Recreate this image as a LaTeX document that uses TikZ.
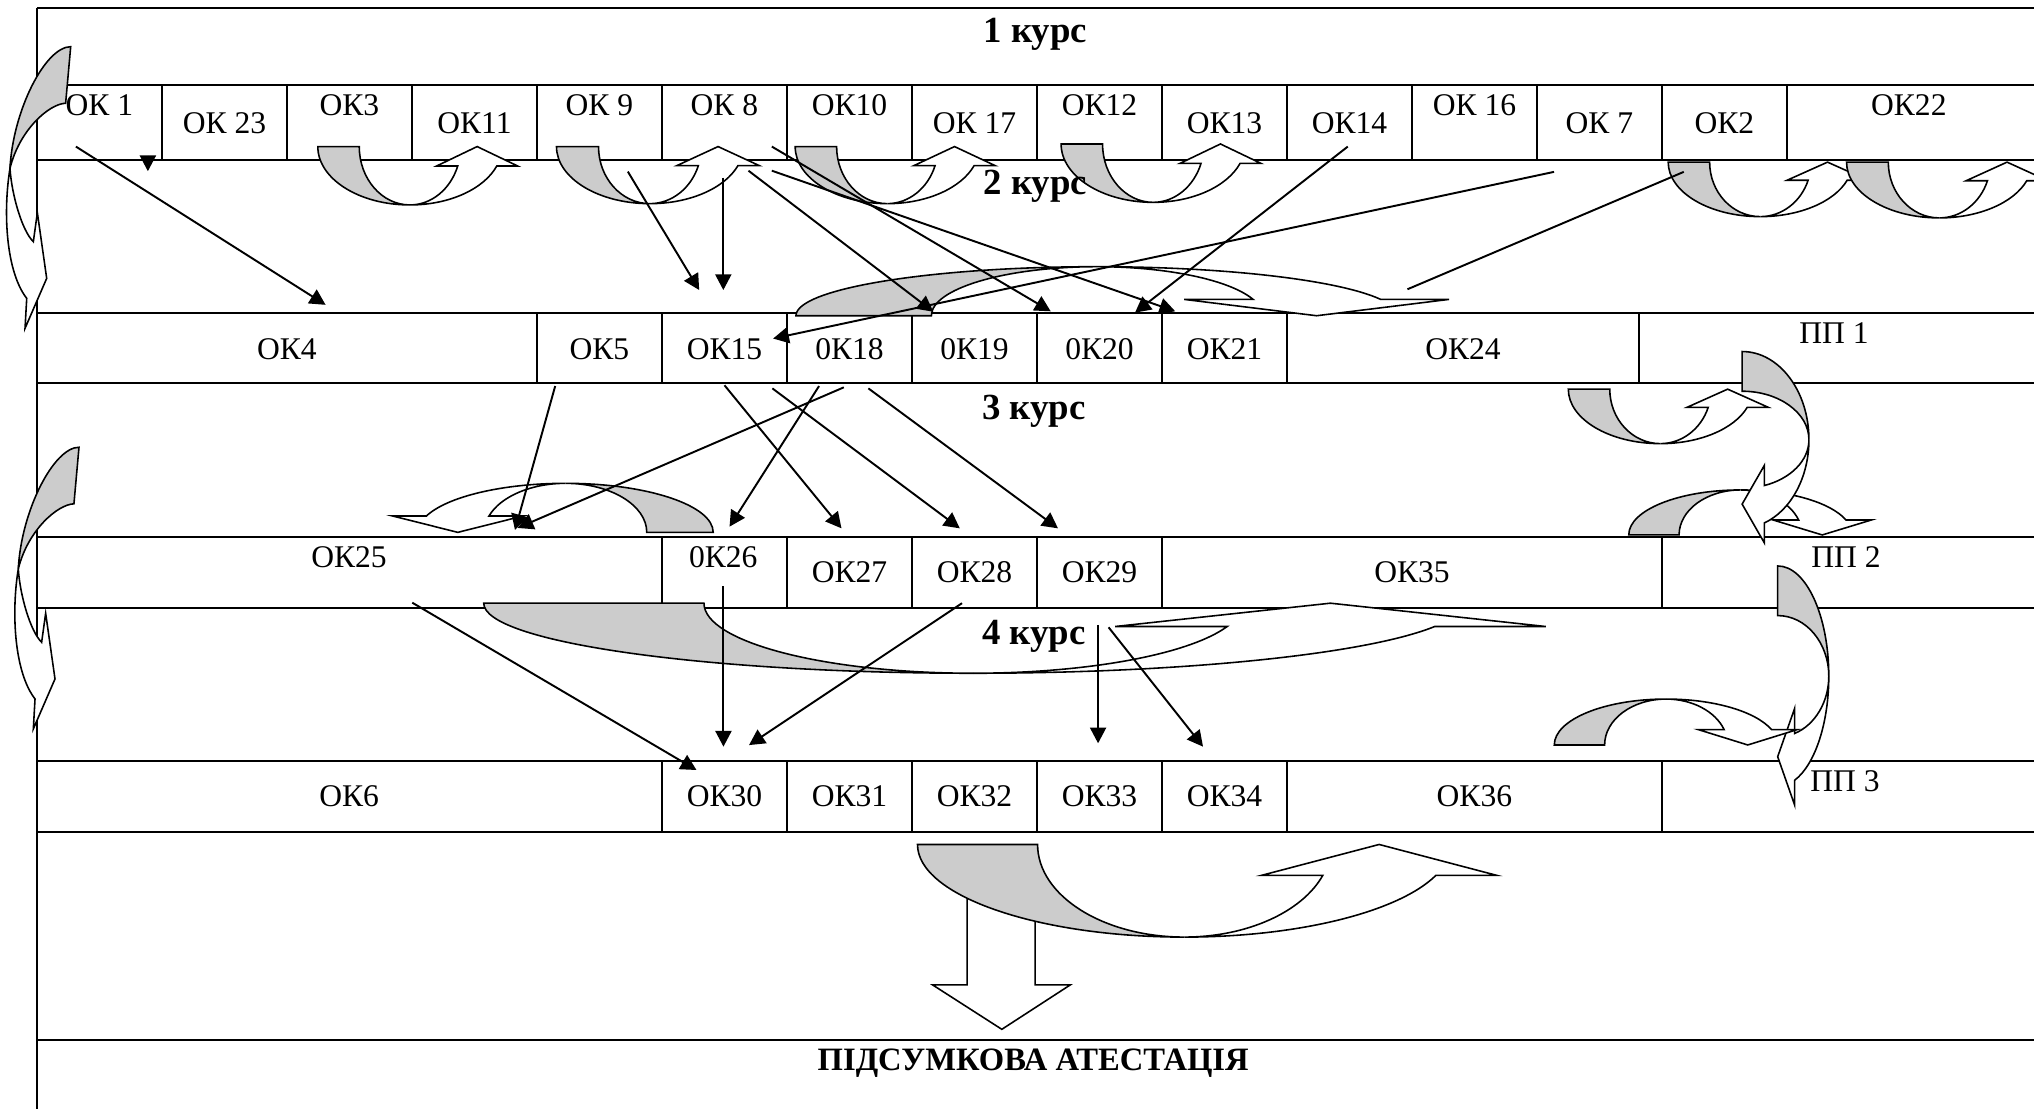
\documentclass[tikz,border=0pt]{standalone}
\usepackage{fontspec}
\setmainfont{Liberation Serif}
\usetikzlibrary{arrows.meta}
\def\px{0.013cm}
\tikzset{
  grid/.style={line width=0.6pt},
  arr/.style={line width=0.55pt,-{Triangle[length=4.5pt,width=4.6pt]}},
  link/.style={line width=0.55pt},
  backband/.style={draw,line width=0.45pt,fill=black!20},
  frontband/.style={draw,line width=0.45pt,fill=white},
  cell/.style={font=\fontsize{9}{11}\selectfont,anchor=base,inner sep=0pt},
  course/.style={font=\fontsize{10.5}{12}\selectfont\bfseries,anchor=base,inner sep=0pt},
  pics/sidearrow/.style={code={
    \draw[backband] (54.5,36) -- (50.6,79.6) .. controls (38,80) and (15,100) .. (7.7,129.8)
      .. controls (10,85) and (35,36) .. (54.5,36) -- cycle;
    \draw[frontband] (7.7,129.8) .. controls (2,165) and (5,210) .. (20.6,230)
      -- (19.3,253.1) -- (36,214.6) -- (28.8,164) -- (25.7,186.3)
      .. controls (17,178) and (9,150) .. (7.7,129.8) -- cycle;
  }}
}
\newcommand{\bendarrow}[6]{%
  \begin{scope}[shift={(#1,#2)},x={({#3*\px},{-(#4)*\px})},y={({#5*\px},{-(#6)*\px})}]
    \draw[backband] (-1,0) .. controls (-1,0.552) and (-0.552,1) .. (0,1)
      .. controls (-0.304,1) and (-0.55,0.552) .. (-0.55,0) -- cycle;
    \draw[frontband] (0,1) .. controls (0.423,1) and (0.802,0.732) .. (0.943,0.333)
      -- (1.17,0.333) -- (0.73,0) -- (0.29,0.333) -- (0.519,0.333)
      .. controls (0.441,0.732) and (0.233,1) .. (0,1) -- cycle;
  \end{scope}}
\begin{document}
\begin{tikzpicture}[x=0.013cm,y=-0.013cm]
\useasboundingbox (0,0) rectangle (1568,855);
\pgfmathsetmacro\xo{28.5}
\pgfmathsetmacro\cw{96.36}

\foreach \y in {6.2,65.5,123.3,241.3,295.2,414,468.7,586.6,641.4,801.7}
  \draw[grid] (\xo,\y) -- (1568,\y);
\draw[grid] (\xo,6.2) -- (\xo,855);
\foreach \k in {1,...,14}
  \draw[grid] ({\xo+\cw*\k},65.5) -- ({\xo+\cw*\k},123.3);
\foreach \k in {4,...,10}
  \draw[grid] ({\xo+\cw*\k},241.3) -- ({\xo+\cw*\k},295.2);
\draw[grid] (1263.6,241.3) -- (1263.6,295.2);
\foreach \k in {5,6,7,8,9,13}
  \draw[grid] ({\xo+\cw*\k},414) -- ({\xo+\cw*\k},468.7);
\foreach \k in {5,6,7,8,9,10,13}
  \draw[grid] ({\xo+\cw*\k},586.6) -- ({\xo+\cw*\k},641.4);

\draw[frontband] (745.5,680) -- (745.5,759.3) -- (719,759.3) -- (772.3,793.5)
  -- (825,759.3) -- (798,759.3) -- (798,680) -- cycle;

\bendarrow{316}{113}{71}{0}{0}{45}
\bendarrow{501}{113}{72}{0}{0}{44}
\bendarrow{684}{113}{71}{0}{0}{44}
\bendarrow{889}{111}{71}{0}{0}{45}
\bendarrow{1357}{125}{71}{0}{0}{42}
\bendarrow{1495}{125}{71.5}{0}{0}{43}
\bendarrow{845.6}{243.4}{232}{0}{0}{-37.8}
\bendarrow{1280}{300}{71}{0}{0}{42}
\bendarrow{1341.8}{412.4}{86.2}{0}{0}{-34.7}
\bendarrow{1343}{339}{0}{68}{51.5}{0}
\bendarrow{436}{410.4}{-113.8}{0}{0}{-37.8}
\bendarrow{750.2}{465}{377.3}{0}{0}{54}
\bendarrow{1370.4}{521.3}{0}{85}{39.4}{0}
\bendarrow{1284.4}{574.3}{86.2}{0}{0}{-35.4}
\bendarrow{913}{651}{205.7}{0}{0}{71.4}
\pic (sideup) at (0,0) {sidearrow};
\pic (sidedown) at (6.4,308.8) {sidearrow};

\foreach \n/\x/\y in {ok1o/58.5/113, ok4i/251/235, ok1d/114/120, ok1t/114/132,
    ok9o/484/132.3, ok15a/539/223.6, ok8a/557.6/137, ok15b/557.6/223.6,
    ok8b/577/131.6, ok19i/719.5/240.3, ok8c/595/113, ok20a/810/240,
    ok8d/595/131.6, ok21i/906/240, ok14o/1039/113, ok20b/875/241,
    ok7o/1198/132.5, ok15c/596/261, ok2o/1298/132.5, ok2e/1085/223,
    ok5o/428/297.6, ok25a/397/408.6, ok18a/650.5/298.6, ok25b/399/407,
    ok18b/631.4/297.6, ok26i/562.4/406, ok15d/558.5/297, ok27i/648.7/407.3,
    ok15e/595.4/299.4, ok28i/739.9/407.3, ok18c/669.4/299.4, ok29i/815.6/407.3,
    ok25o/317.8/464.6, ok30a/536.9/593.6, ok26o/557.7/451.8, ok30b/557.7/575.6,
    ok28o/741.6/465, ok30c/577.4/574.4, c4a/846.5/481.8, ok33i/846.5/573,
    c4b/854.6/483.6, ok34i/927.4/575.6}
  \coordinate (\n) at (\x,\y);

\foreach \a/\b in {ok1o/ok4i, ok1d/ok1t, ok9o/ok15a, ok8a/ok15b, ok8b/ok19i,
    ok8c/ok20a, ok8d/ok21i, ok14o/ok20b, ok7o/ok15c, ok5o/ok25a, ok18a/ok25b,
    ok18b/ok26i, ok15d/ok27i, ok15e/ok28i, ok18c/ok29i, ok25o/ok30a,
    ok26o/ok30b, ok28o/ok30c, c4a/ok33i, c4b/ok34i}
  \draw[arr] (\a) -- (\b);
\draw[link] (ok2o) -- (ok2e);

\node[course] (kurs1) at (798.2,32.9) {1 курс};
\node[course] (kurs2) at (798.2,150.3) {2 курс};
\node[course] (kurs3) at (797,323.3) {3 курс};
\node[course] (kurs4) at (797,496.5) {4 курс};
\node[course,font=\fontsize{9.3}{11}\selectfont\bfseries] (atest) at (796.5,824.9) {ПІДСУМКОВА АТЕСТАЦІЯ};

\foreach \k/\t/\yb in {1/ОК 1/88.7, 2/ОК 23/102.8, 3/ОК3/88.7, 4/ОК11/102.8,
    5/ОК 9/88.7, 6/ОК 8/88.7, 7/ОК10/88.7, 8/ОК 17/102.8, 9/ОК12/88.7,
    10/ОК13/102.8, 11/ОК14/102.8, 12/ОК 16/88.7, 13/ОК 7/102.8, 14/ОК2/102.8}
  \node[cell] (ra\k) at ({\xo+\cw*(\k-0.5)},\yb) {\t};
\node[cell] (ra15) at (1471.5,88.7) {ОК22};

\foreach \x/\t [count=\i] in {221.2/ОК4, 462.1/ОК5, 558.5/ОК15, 654.9/0К18,
    751.2/0К19, 847.6/0К20, 944/ОК21, 1127.8/ОК24}
  \node[cell] (rb\i) at (\x,277) {\t};
\node[cell] (pp1) at (1413.8,264.7) {ПП 1};

\foreach \x/\t/\yb [count=\i] in {269.1/ОК25/437.4, 557.6/0К26/437.4,
    654.9/ОК27/448.9, 751.2/ОК28/448.9, 847.6/ОК29/448.9, 1088.5/ОК35/448.9}
  \node[cell] (rc\i) at (\x,\yb) {\t};
\node[cell] (pp2) at (1423,437.4) {ПП 2};

\foreach \x/\t [count=\i] in {269.1/ОК6, 558.5/ОК30, 654.9/ОК31, 751.2/ОК32,
    847.6/ОК33, 944/ОК34, 1136.6/ОК36}
  \node[cell] (rd\i) at (\x,621.4) {\t};
\node[cell] (pp3) at (1422.3,610.3) {ПП 3};
\end{tikzpicture}
\end{document}
